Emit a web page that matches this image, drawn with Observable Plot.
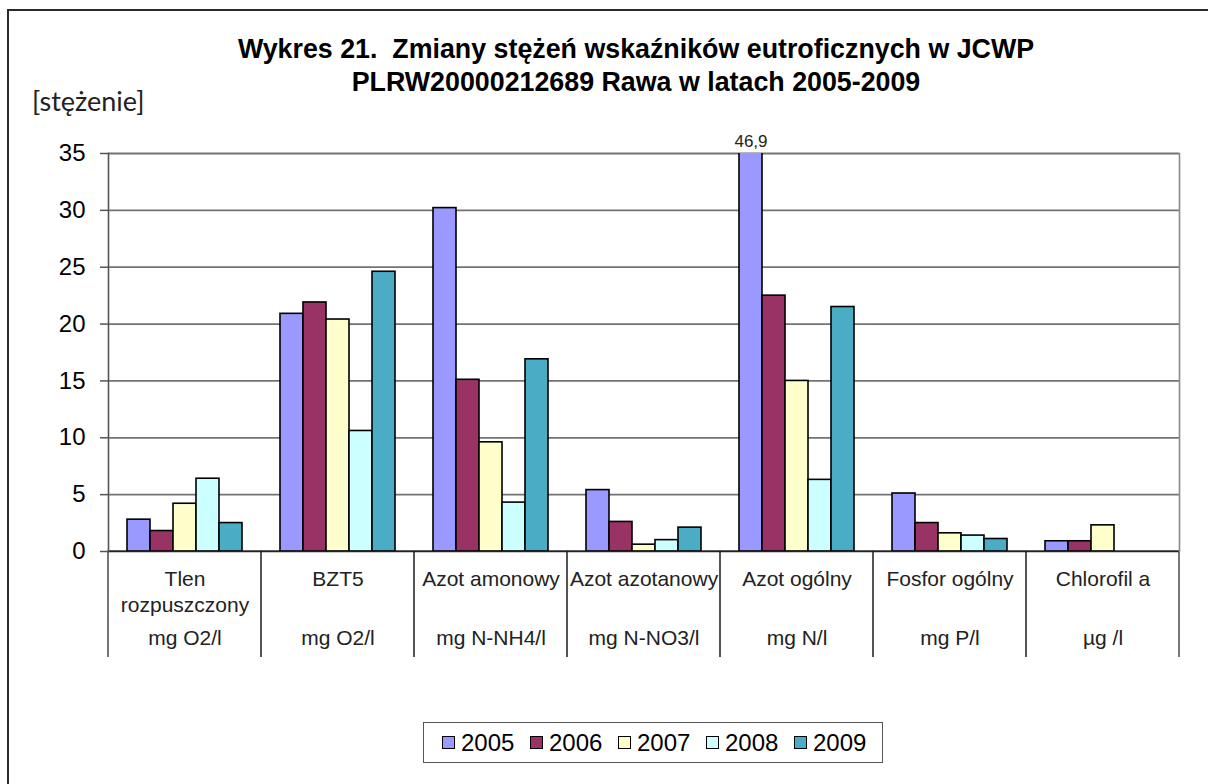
<!DOCTYPE html>
<html lang="pl">
<head>
<meta charset="utf-8">
<script src="https://cdn.jsdelivr.net/npm/d3@7"></script>
<script src="https://cdn.jsdelivr.net/npm/@observablehq/plot@0.6"></script>
<style>
  html, body { margin: 0; padding: 0; background: #fff; }
  #chart { position: relative; width: 1208px; height: 784px; overflow: hidden; background: #fff; font-family: "Liberation Sans", Arial, sans-serif; }
  #border { position: absolute; left: 7px; top: 9px; width: 1260px; height: 840px; border: 2px solid #2a2a2a; box-sizing: border-box; }
  #title { position: absolute; left: 0; top: 33px; width: 1272px; text-align: center; font-weight: bold; font-size: 26.8px; line-height: 33px; color: #000; }
  #ylabel { position: absolute; left: 32px; top: 84px; font-family: Lato, "Open Sans", sans-serif; font-size: 27px; color: #222; }
  #plot { position: absolute; left: 0; top: 120px; }
  #legend { position: absolute; left: 423px; top: 722px; width: 460px; height: 41px; border: 1.5px solid #555; box-sizing: border-box; display: flex; align-items: center; padding-left: 18px; }
  .item { display: flex; align-items: center; width: 89.5px; font-size: 24px; color: #000; }
  .sw { width: 11px; height: 11px; border: 1.5px solid #000; margin-right: 6px; }
</style>
</head>
<body>
<div id="chart">
  <div id="border"></div>
  <div id="title">Wykres 21.&nbsp; Zmiany stężeń wskaźników eutroficznych w JCWP<br>PLRW20000212689 Rawa w latach 2005-2009</div>
  <div id="ylabel">[stężenie]</div>
  <div id="plot"></div>
  <div id="legend"></div>
</div>
<script>
// Indicators and their units
const categories = ["Tlen rozpuszczony", "BZT5", "Azot amonowy", "Azot azotanowy", "Azot ogólny", "Fosfor ogólny", "Chlorofil a"];
const categoryLabels = ["Tlen\nrozpuszczony", "BZT5", "Azot amonowy", "Azot azotanowy", "Azot ogólny", "Fosfor ogólny", "Chlorofil a"];
const units = ["mg O2/l", "mg O2/l", "mg N-NH4/l", "mg N-NO3/l", "mg N/l", "mg P/l", "µg /l"];

// Yearly concentrations, one array per year (in category order)
const years = ["2005", "2006", "2007", "2008", "2009"];
const v2005 = [2.8, 20.9, 30.2, 5.4, 46.9, 5.1, 0.9];
const v2006 = [1.8, 21.9, 15.1, 2.6, 22.5, 2.5, 0.9];
const v2007 = [4.2, 20.4, 9.6, 0.6, 15.0, 1.6, 2.3];
const v2008 = [6.4, 10.6, 4.3, 1.0, 6.3, 1.4, null];
const v2009 = [2.5, 24.6, 16.9, 2.1, 21.5, 1.1, null];
const yearColors = ["#9999FF", "#993366", "#FFFFCC", "#CCFFFF", "#4BACC6"];
const yTicks = [0, 5, 10, 15, 20, 25, 30, 35];
const yMax = 35;

const series = [v2005, v2006, v2007, v2008, v2009];
const data = categories.flatMap((c, i) =>
  years.map((y, j) => ({category: c, year: y, value: series[j][i]}))
).filter(d => d.value != null);

const fmt = v => v.toLocaleString("pl-PL", {minimumFractionDigits: 1});

const chart = Plot.plot({
  width: 1208,
  height: 537,
  marginTop: 33,
  marginLeft: 107,
  marginRight: 28,
  marginBottom: 106,
  style: {fontFamily: "'Liberation Sans', Arial, sans-serif", overflow: "hidden", background: "transparent", color: "#000"},
  fx: {domain: categories, padding: 0, axis: null, label: null},
  x: {domain: years, paddingInner: 0, paddingOuter: 0.75, axis: null},
  y: {domain: [0, yMax], axis: null, label: null},
  color: {domain: years, range: yearColors},
  marks: [
    Plot.gridY(yTicks.slice(1), {stroke: "#737373", strokeOpacity: 1, strokeWidth: 1.8}),
    // category cells below the value axis
    Plot.rect(categories, {fx: d => d, y1: 0, y2: -10, fill: "none", stroke: "#4a4a4a", strokeWidth: 1.5}),
    Plot.barY(data, {fx: "category", x: "year", y: "value", fill: "year", stroke: "#000", strokeWidth: 1.6, clip: "frame"}),
    Plot.ruleY([0], {stroke: "#222", strokeWidth: 1.6}),
    Plot.frame({anchor: "left", facet: "super", stroke: "#555", strokeWidth: 1.6}),
    Plot.frame({anchor: "right", facet: "super", stroke: "#8a8a8a", strokeWidth: 1.6}),
    Plot.axisY({ticks: yTicks, label: null, tickSize: 8, tickPadding: 15, fontSize: 24, stroke: "#555", strokeWidth: 1.5, tickFormat: d => String(d)}),
    Plot.axisFx({anchor: "bottom", label: null, tickSize: 0, tickPadding: 17, fontSize: 21, lineHeight: 1.2, fill: "#222",
      tickFormat: d => categoryLabels[categories.indexOf(d)]}),
    Plot.axisFx({anchor: "bottom", label: null, tickSize: 0, tickPadding: 79, fontSize: 21, fill: "#222",
      tickFormat: d => units[categories.indexOf(d)]}),
    // value of the bar that runs off the top of the axis
    Plot.text(data.filter(d => d.value > yMax), {fx: "category", x: "year", frameAnchor: "top", text: d => fmt(d.value),
      dy: -7, lineAnchor: "bottom", fontSize: 17, fill: "#222"})
  ]
});
document.getElementById("plot").appendChild(chart);

// Legend
const legend = document.getElementById("legend");
years.forEach((y, i) => {
  const item = document.createElement("div");
  item.className = "item";
  const sw = document.createElement("span");
  sw.className = "sw";
  sw.style.background = yearColors[i];
  const label = document.createElement("span");
  label.textContent = y;
  item.append(sw, label);
  legend.appendChild(item);
});
</script>
</body>
</html>
